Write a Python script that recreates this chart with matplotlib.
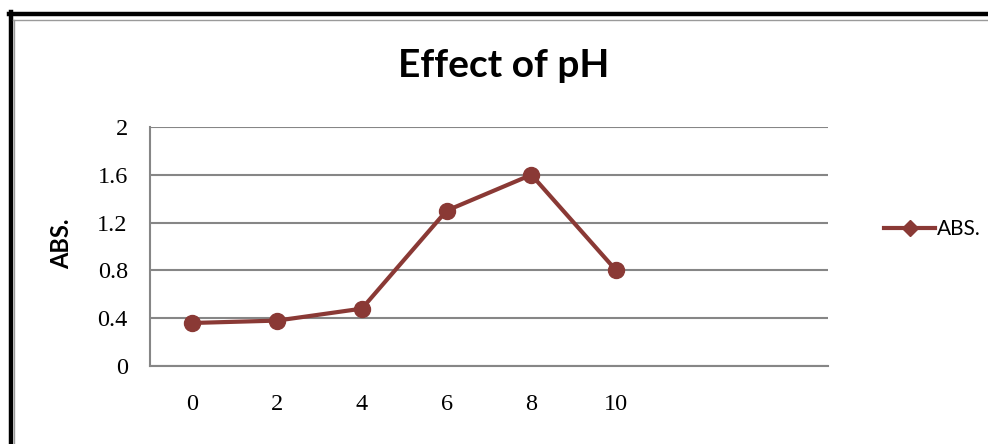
import numpy as np
import matplotlib
matplotlib.use("Agg")
import matplotlib.pyplot as plt
from matplotlib.lines import Line2D

# data
ph_labels = ["0", "2", "4", "6", "8", "10", "", ""]
abs_values = [0.36, 0.38, 0.48, 1.30, 1.60, 0.80]
y_ticks = [0, 0.4, 0.8, 1.2, 1.6, 2]
y_tick_labels = ["0", "0.4", "0.8", "1.2", "1.6", "2"]

W, H = 988, 444
line_color = "#8A3935"
grid_color = "#868686"

fig = plt.figure(figsize=(W / 100, H / 100), dpi=100)
fig.patch.set_facecolor("white")

ax = fig.add_axes([150 / W, 1 - 366 / H, (828 - 150) / W, (366 - 127) / H])

x = np.arange(len(ph_labels))
ax.plot(x[:len(abs_values)], abs_values, color=line_color, lw=3,
        marker="o", ms=11.5, mec=line_color, mfc=line_color, zorder=3,
        solid_joinstyle="round")

ax.set_xlim(-0.5, len(ph_labels) - 0.5)
ax.set_ylim(0, 2)
ax.set_xticks(x)
ax.set_xticklabels(ph_labels)
ax.set_yticks(y_ticks)
ax.set_yticklabels(y_tick_labels)

ax.yaxis.grid(True, color=grid_color, lw=1.5)
ax.set_axisbelow(True)
for s in ["top", "right"]:
    ax.spines[s].set_visible(False)
for s in ["left", "bottom"]:
    ax.spines[s].set_color(grid_color)
    ax.spines[s].set_linewidth(1.5)

ax.tick_params(axis="both", length=0, labelsize=17.5)
ax.tick_params(axis="y", pad=16)
ax.tick_params(axis="x", pad=20)
for lab in ax.get_xticklabels() + ax.get_yticklabels():
    lab.set_fontfamily("Liberation Serif")

# title and y label
fig.text(504 / W, 1 - 77 / H, "Effect of pH", ha="center", va="baseline",
         fontsize=28, fontweight="bold", family="Lato")
fig.text(62 / W, 1 - 244 / H, "ABS.", ha="center", va="center", rotation=90,
         fontsize=17, fontweight="bold", family="Lato")

# legend
handle = Line2D([], [], color=line_color, lw=3, marker="D", ms=8,
                mfc=line_color, mec=line_color)
fig.legend([handle], ["ABS."], loc="center left",
           bbox_to_anchor=(884 / W, 1 - 229 / H), frameon=False,
           prop={"family": "Lato", "size": 15}, handlelength=2.45,
           handletextpad=0.1, borderpad=0, borderaxespad=0)

# outer chart frame (black + thin gray inner edge)
fig.add_artist(Line2D([9 / W, 1], [1 - 14 / H, 1 - 14 / H], color="black",
                      lw=3.2, transform=fig.transFigure))
fig.add_artist(Line2D([10.5 / W, 10.5 / W], [0, 1 - 12 / H], color="black",
                      lw=3.2, transform=fig.transFigure))
fig.add_artist(Line2D([13 / W, 1], [1 - 20.5 / H, 1 - 20.5 / H], color="#9a9a9a",
                      lw=1, transform=fig.transFigure))
fig.add_artist(Line2D([13.5 / W, 13.5 / W], [0, 1 - 20 / H], color="#9a9a9a",
                      lw=1, transform=fig.transFigure))

fig.savefig("out.png", dpi=100)
